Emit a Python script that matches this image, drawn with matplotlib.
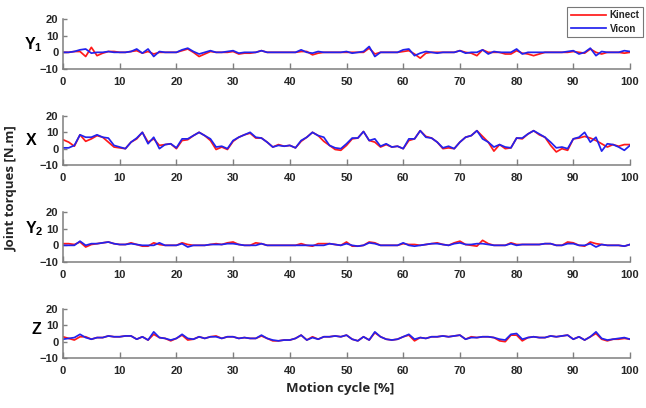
import numpy as np
import matplotlib
matplotlib.use('Agg')
import matplotlib.pyplot as plt

plt.rcParams['font.family'] = ['Liberation Sans', 'DejaVu Sans']
plt.rcParams['mathtext.fontset'] = 'custom'
plt.rcParams['mathtext.rm'] = 'Liberation Sans:bold'
plt.rcParams['mathtext.bf'] = 'Liberation Sans:bold'
plt.rcParams['mathtext.it'] = 'Liberation Sans:bold'

# motion cycle, 0..100 %
cycle = list(range(101))

# Y1 joint torque
y1_kinect = [0, 0, 0.5, 0.5, -2.5, 3, -2, -0.5, 0.5, 0.5, 0, 0, 0.5, 1, -0.5, 0.5, -1, 0, 0, 0,
             0, 1, 2, 0, -2.5, -1, 0.5, 0, 0, 0, 0.5, -1, -0.5, -0.5, 0, 1, 0, 0, 0, 0,
             0, 0, 0.5, 0.5, -1.5, -0.5, 0, 0, 0, 0, 0, 0, 0, 0, 2.5, -1, 0, 0, 0, 0,
             0.5, 1, -1, -3.5, -0.5, 0, 0, 0, 0, 0, 1, 0, -0.5, -2, 1.5, 0, 0, 0, -1, -1,
             1, -0.5, -1, -2, -1, 0, 0, 0, 0, 0, 0.5, 0, -0.5, 2, 0, -1, 0, 0, 0, -0.5, 0]
y1_vicon = [0, 0, 0.5, 1.5, 2, -0.5, 0, 0, 0.5, 0, 0, 0, 0.5, 2, -0.5, 2, -2.5, 0.5, 0, 0,
            0, 1.5, 2.5, 0.5, -1, 0, 1, 0, 0, 0.5, 1, -0.5, 0, 0, 0, 1, 0, 0, 0, 0,
            0, 0, 1.5, 0, -0.5, 0.5, 0, 0, 0, 0, 0.5, -0.5, 0, 0.5, 3.5, -2.5, 0, 0, 0, 0,
            1.5, 2, -2, -0.5, 0.5, 0, -0.5, 0, 0, 0, 1, -0.5, 0, 0, 1.5, -1, 0.5, 0, 0, 0,
            2, -1, 0, 0, 0, 0, 0, 0, 0, 0.5, 1, -1, 0, 2.5, -2, 0.5, 0, 0, 0, 1, 0.5]

# X joint torque
x_kinect = [5.5, 4, 1.5, 8.5, 4.5, 6, 8, 7, 4, 1, 0.5, 0, 4, 6, 10, 4, 6, 2, 2.5, 3,
            0, 5, 5.5, 8, 10, 8, 5, -0.5, 1, -0.5, 4.5, 7, 8.5, 9.5, 6.5, 6.5, 4, 1, 2.5, 1.5,
            2, 0.5, 4.5, 7, 10, 8, 4.5, 2, -0.5, -1, 2, 6, 6.5, 10.5, 5, 4, 1, 2.5, 1, 1.5,
            0, 5, 6, 11, 7.5, 6.5, 4, 0, 0.5, 0, 4, 7, 8, 11, 7.5, 4, -1.5, 2.5, 0, 0.5,
            6.5, 6, 9, 11, 8.5, 7, 2, -2, 0, -1, 6, 6.5, 7.5, 6.5, 5, 3, 1, 2.5, 1.5, 2.5, 2.5]
x_vicon = [0.5, 0.5, 2, 8.5, 7, 7, 8.5, 7, 6.5, 2, 1, 0, 4, 6.5, 10, 3, 7, 0, 2.5, 3,
           0.5, 6, 6, 8, 10, 8, 6, 1, 1.5, 0, 5, 7, 8.5, 10, 7, 6.5, 4, 1, 2, 1.5,
           2, 0.5, 5, 7, 10, 8, 7, 2, 0.5, 0, 3, 6.5, 6.5, 10.5, 5, 6, 1.5, 3, 1, 1.5,
           0, 6, 6, 11, 7, 6.5, 4, 0.5, 1.5, 0, 4, 7, 8, 11, 6, 4, 1, 2.5, 1, 0.5,
           6.5, 6.5, 9, 11, 9, 7, 4, 0.5, 1, 0, 6, 7, 10, 4, 7, -1.5, 3, 2.5, 1, -1, 2]

# Y2 joint torque
y2_kinect = [1, 1, 0.5, 2, -1, 0.5, 1, 1.5, 2, 1, 0.5, 0.5, 1.5, 0.5, -0.5, -0.5, 1.5, 0.5, 0, 0,
             0, 1.5, 0.5, 0, 0, 0, 0.5, 1, 0.5, 1.5, 2, 0.5, 0, 0, 1.5, 1, 0, 0, 0, 0,
             0, 0, 1, 0, -0.5, 1, 1, 1, 0.5, 0, 2, -0.5, -0.5, 0, 2, 1.5, 0, 0, 0, 0,
             1, 0.5, 0.5, 0, 0.5, 1, 1.5, 0.5, 0, 1.5, 2.5, 0.5, 0, -0.5, 3, 1, 0, 0, 0, 1.5,
             0.5, 0.5, 0.5, 0.5, 0.5, 1, 1, 0, 0, 2, 1.5, 0, -0.5, 2, 1, 0.5, 0, 0, 0, -0.5, 0.5]
y2_vicon = [0, 0, 0, 2.5, 0, 1, 1, 1.5, 2, 1, 0.5, 0.5, 1, 0.5, 0, 0, 0, 1.5, 0, 0,
            0, 1, -1, 0, 0, 0, 0.5, 0.5, 0.5, 1, 1, 0.5, 0, 0, 0, 1, 0, 0, 0, 0,
            0, 0, 0, 0, 0, 0, 0, 1, 0.5, 0, 1, 0, -0.5, 0, 1.5, 1, 0, 0, 0, 0,
            1.5, 0, -0.5, 0, 0.5, 1, 1, 0.5, 0, 1, 1.5, 0.5, 0.5, 1, 1, 0.5, 0, 0, 0, 1,
            0, 0.5, 0.5, 0.5, 0.5, 1, 1, 0, 0, 1, 1, 0, 0, 1, -1, 0.5, 0, 0, 0, -0.5, 0.5]

# Z joint torque
z_kinect = [3, 2, 1, 3, 3, 1.5, 2.5, 2.5, 3.5, 3, 3, 3.5, 3.5, 1.5, 3, 1, 4.5, 2.5, 2, 0.5,
            2, 4, 1, 1.5, 3, 2, 3, 3.5, 2, 3, 3, 2, 2.5, 2, 2, 3.5, 2, 0.5, 0.5, 1,
            1, 2, 4, 1, 3, 1.5, 3, 3, 3.5, 3, 4, 1.5, 0.5, 3, 1, 5.5, 3, 1.5, 1, 1.5,
            3, 4, 0.5, 2.5, 2, 3, 3, 3.5, 3, 3.5, 4, 1.5, 3, 2.5, 3, 3, 2.5, 0.5, 0, 4,
            4, 0.5, 2.5, 3, 2.5, 2.5, 3.5, 3, 3.5, 4, 1.5, 3, 1, 3, 5, 1.5, 0.5, 1.5, 1.5, 2, 1.5]
z_vicon = [1.5, 2, 2.5, 4.5, 2.5, 1.5, 2.5, 2.5, 3.5, 3, 3, 3.5, 3.5, 1.5, 3, 1, 6, 2.5, 2, 1,
           2, 4.5, 2, 1.5, 3, 2, 3, 3, 2, 3, 3, 2, 2.5, 2, 2, 4, 2, 1, 0.5, 1,
           1, 2, 4, 1, 2.5, 1.5, 3, 3, 3.5, 3, 4, 1.5, 0.5, 3, 1, 6, 3, 1.5, 1, 1.5,
           3, 4.5, 1.5, 2.5, 2, 3, 3, 3.5, 3, 3.5, 4, 1.5, 2.5, 2.5, 3, 3, 2.5, 1.5, 1, 4.5,
           5, 1.5, 2.5, 3, 2.5, 2.5, 3.5, 3, 3.5, 4, 1.5, 3, 1, 3, 6, 2, 1, 1.5, 2, 2.5, 1.5]

panels = [
    (r'$\mathbf{Y_1}$', y1_kinect, y1_vicon),
    ('X', x_kinect, x_vicon),
    (r'$\mathbf{Y_2}$', y2_kinect, y2_vicon),
    ('Z', z_kinect, z_vicon),
]

fig = plt.figure(figsize=(6.46, 4.08), dpi=100)

# axes boxes in pixels (top, bottom) measured from the top of the figure
W, H = 646.0, 408.0
left, right = 63, 630
rows = [(19, 69), (116, 165), (212, 262), (309, 358)]
label_pos = [(-0.053, 0.48), (-0.056, 0.50), (-0.050, 0.66), (-0.046, 0.58)]

gray = '#7f7f7f'
txt = '#262626'

axes = []
for i, (name, kin, vic) in enumerate(panels):
    top, bot = rows[i]
    ax = fig.add_axes([left / W, 1 - bot / H, (right - left) / W, (bot - top) / H])
    ax.plot(cycle, kin, color='#ff1a1a', lw=1.25, label='Kinect')
    ax.plot(cycle, vic, color='#2222ee', lw=1.25, label='Vicon')
    ax.set_xlim(0, 100)
    ax.set_ylim(-10, 20)
    ax.set_xticks(range(0, 101, 10))
    ax.set_yticks([-10, 0, 10, 20])
    for s in ['top', 'right']:
        ax.spines[s].set_visible(False)
    for s in ['left', 'bottom']:
        ax.spines[s].set_color(gray)
        ax.spines[s].set_linewidth(1.1)
    ax.tick_params(axis='x', direction='in', length=4, width=1.0, color=gray,
                   labelsize=8, labelcolor=txt, pad=6.0)
    ax.tick_params(axis='y', direction='in', length=3, width=1.0, color=gray,
                   labelsize=8, labelcolor=txt, pad=3.3)
    for lab in ax.get_xticklabels() + ax.get_yticklabels():
        lab.set_fontweight('bold')
    lx, ly = label_pos[i]
    ax.text(lx, ly, name, transform=ax.transAxes, ha='center', va='center',
            fontsize=11.5, fontweight='bold', color='black')
    axes.append(ax)

leg = axes[0].legend(loc='upper right', bbox_to_anchor=(643 / W, 1 - 7 / H),
                     bbox_transform=fig.transFigure, fontsize=7, frameon=True,
                     fancybox=False, handlelength=3.6, handletextpad=0.4,
                     borderpad=0.35, labelspacing=0.35, borderaxespad=0)
leg.get_frame().set_edgecolor('#555555')
leg.get_frame().set_linewidth(0.8)
for t in leg.get_texts():
    t.set_fontweight('bold')
    t.set_color(txt)

fig.text(0.018, 0.538, 'Joint torques [N.m]', rotation=90, ha='center', va='center',
         fontsize=9.5, fontweight='bold', family=['Open Sans', 'DejaVu Sans'], color=txt)
fig.text(0.526, 0.047, 'Motion cycle [%]', ha='center', va='center',
         fontsize=9.5, fontweight='bold', family=['Open Sans', 'DejaVu Sans'], color=txt)

fig.savefig('out.png', dpi=100)
